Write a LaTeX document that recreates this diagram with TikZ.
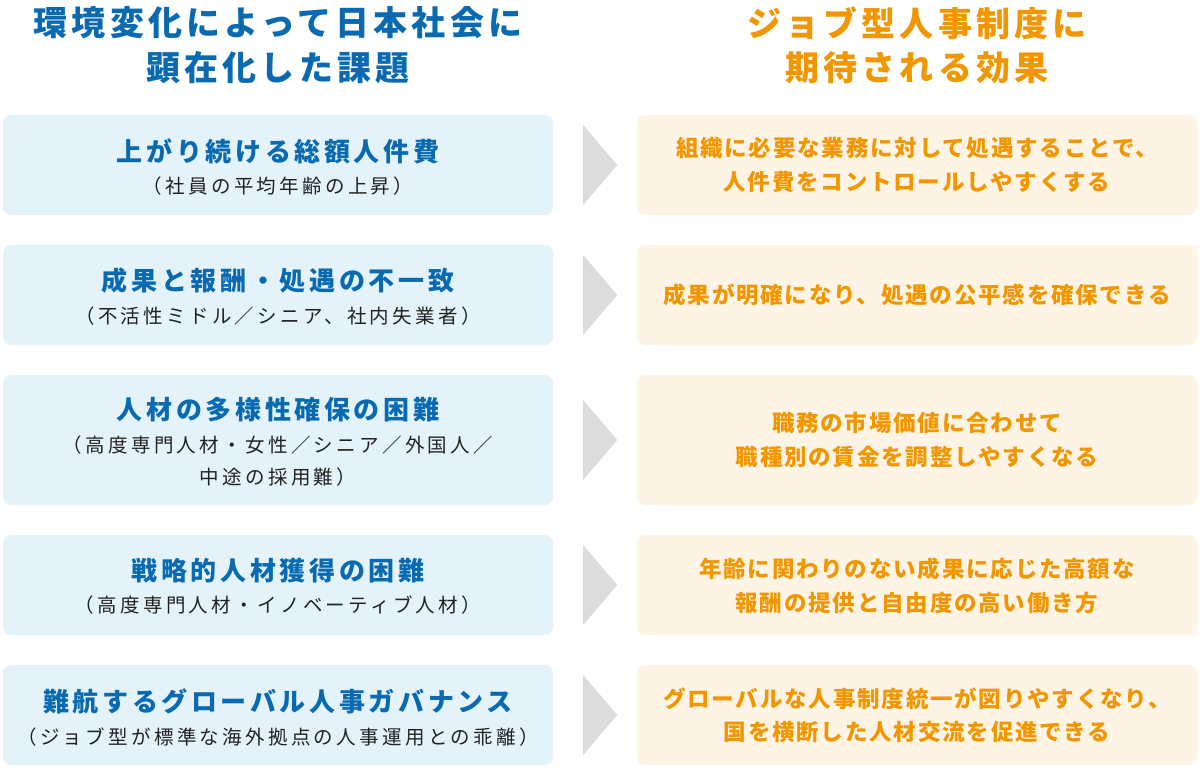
\documentclass[tikz,border=0pt]{standalone}
\usepackage{fontspec}
\setmainfont{Noto Sans CJK JP}
\usetikzlibrary{calc}
\definecolor{hblue}{HTML}{0A6AB1}
\definecolor{horange}{HTML}{F29600}
\definecolor{lblue}{HTML}{E4F3FA}
\definecolor{lorange}{HTML}{FEF4E5}
\definecolor{chev}{HTML}{DCDCDC}
\definecolor{subtxt}{HTML}{222222}
\newcommand\headfont{\fontsize{34}{45}\selectfont\bfseries\addfontfeatures{LetterSpace=12}}
\newcommand\ltitlefont{\fontsize{26}{30}\selectfont\bfseries\addfontfeatures{LetterSpace=14}}
\newcommand\lsubfont{\fontsize{19.5}{32}\selectfont\addfontfeatures{LetterSpace=17}}
\newcommand\rfont{\fontsize{22.5}{34}\selectfont\bfseries\addfontfeatures{LetterSpace=8}}
\tikzset{
  lbox/.style={rectangle, rounded corners=8pt, fill=lblue, minimum width=550pt, inner sep=0pt},
  rbox/.style={rectangle, rounded corners=8pt, fill=lorange, minimum width=560pt, inner sep=0pt},
  headtxt/.style={inner sep=0pt, align=center, font=\headfont},
  ltitle/.style={inner sep=0pt, text=hblue, font=\ltitlefont},
  lsub/.style={inner sep=0pt, text=subtxt, align=center, font=\lsubfont},
  rtxt/.style={inner sep=0pt, text=horange, align=center, font=\rfont},
  chevron/.style={fill=chev},
}
\begin{document}
\begin{tikzpicture}[x=1pt,y=-1pt]
\useasboundingbox (0,0) rectangle (1200,770);
% headers
\node[headtxt, text=hblue] (hl1) at (278,23) {環境変化によって日本社会に};
\node[headtxt, text=hblue] (hl2) at (278,68) {顕在化した課題};
\node[headtxt, text=horange] (hr1) at (917,23) {ジョブ型人事制度に};
\node[headtxt, text=horange] (hr2) at (917,68) {期待される効果};
% left boxes
\node[lbox, minimum height=100pt] (l1) at (278,165) {};
\node[lbox, minimum height=100pt] (l2) at (278,295) {};
\node[lbox, minimum height=130pt] (l3) at (278,440) {};
\node[lbox, minimum height=100pt] (l4) at (278,585) {};
\node[lbox, minimum height=100pt] (l5) at (278,715) {};
% right boxes
\node[rbox, minimum height=100pt] (r1) at (917,165) {};
\node[rbox, minimum height=100pt] (r2) at (917,295) {};
\node[rbox, minimum height=130pt] (r3) at (917,440) {};
\node[rbox, minimum height=100pt] (r4) at (917,585) {};
\node[rbox, minimum height=100pt] (r5) at (917,715) {};
% chevrons
\foreach \i in {1,...,5}{
  \fill[chevron] ($(l\i.east)+(30,-40)$) -- ($(l\i.east)+(64,0)$) -- ($(l\i.east)+(30,40)$) -- cycle;
}
% left texts
\node[ltitle] (t1) at ($(l1.center)+(0,-14)$) {上がり続ける総額人件費};
\node[lsub] (s1) at ($(l1.center)+(0,21)$) {（社員の平均年齢の上昇）};
\node[ltitle] (t2) at ($(l2.center)+(0,-14)$) {成果と報酬・処遇の不一致};
\node[lsub] (s2) at ($(l2.center)+(0,21)$) {（不活性ミドル／シニア、社内失業者）};
\node[ltitle] (t3) at ($(l3.center)+(0,-30)$) {人材の多様性確保の困難};
\node[lsub] (s3a) at ($(l3.center)+(0,5)$) {（高度専門人材・女性／シニア／外国人／};
\node[lsub] (s3b) at ($(l3.center)+(0,37)$) {中途の採用難）};
\node[ltitle] (t4) at ($(l4.center)+(0,-14)$) {戦略的人材獲得の困難};
\node[lsub] (s4) at ($(l4.center)+(0,20)$) {（高度専門人材・イノベーティブ人材）};
\node[ltitle] (t5) at ($(l5.center)+(0,-14)$) {難航するグローバル人事ガバナンス};
\node[lsub] (s5) at ($(l5.center)+(0,22)$) {（ジョブ型が標準な海外拠点の人事運用との乖離）};
% right texts
\node[rtxt] (u1a) at ($(r1.center)+(0,-17)$) {組織に必要な業務に対して処遇することで、};
\node[rtxt] (u1b) at ($(r1.center)+(0,17)$) {人件費をコントロールしやすくする};
\node[rtxt] (u2) at (r2.center) {成果が明確になり、処遇の公平感を確保できる};
\node[rtxt] (u3a) at ($(r3.center)+(0,-17)$) {職務の市場価値に合わせて};
\node[rtxt] (u3b) at ($(r3.center)+(0,17)$) {職種別の賃金を調整しやすくなる};
\node[rtxt] (u4a) at ($(r4.center)+(0,-16)$) {年齢に関わりのない成果に応じた高額な};
\node[rtxt] (u4b) at ($(r4.center)+(0,18)$) {報酬の提供と自由度の高い働き方};
\node[rtxt] (u5a) at ($(r5.center)+(0,-16)$) {グローバルな人事制度統一が図りやすくなり、};
\node[rtxt] (u5b) at ($(r5.center)+(0,17)$) {国を横断した人材交流を促進できる};
\end{tikzpicture}
\end{document}
